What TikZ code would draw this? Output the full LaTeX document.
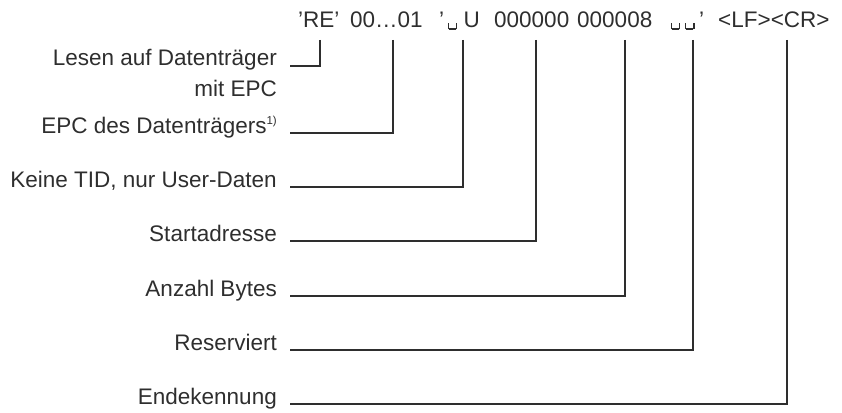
\documentclass[tikz,border=0pt]{standalone}
\usepackage{fontspec}
\setmainfont{Liberation Sans}
\definecolor{ink}{HTML}{2E2E2E}
% visible blank, drawn from rules
\newcommand{\blank}{\kern0.5pt\rule[-1.5pt]{1.2pt}{6.5pt}\rule[-1.5pt]{7pt}{1.2pt}\rule[-1.5pt]{1.2pt}{6.5pt}\kern0.5pt}
\newcommand{\fnmark}{\raisebox{8.5pt}{\fontsize{11.5}{11.5}\selectfont 1)}}
\begin{document}
\begin{tikzpicture}[x=1pt,y=-1pt,
  font=\fontsize{22.5}{27}\selectfont,
  every node/.style={text=ink, inner sep=0pt},
  lbl/.style={anchor=base east},
  tok/.style={anchor=base west},
  lead/.style={draw=ink, line width=1.2pt}]
\useasboundingbox (0,0) rectangle (842,412);

% telegram tokens
\node[tok] (t1) at (298,28) {'RE'};
\node[tok] (t2) at (350,28) {00…01};
\node[tok] (t3) at (439,28) {'\kern3pt\blank\kern6pt U};
\node[tok] (t4) at (494,28) {000000};
\node[tok] (t5) at (577,28) {000008};
\node[tok] (t6) at (670,28) {\blank\kern4pt\blank\kern4pt'};
\node[tok] (t7) at (718,28) {<LF><CR>};

% tops of the leaders
\coordinate (c1) at (320,40);
\coordinate (c2) at (393,40);
\coordinate (c3) at (463,40);
\coordinate (c4) at (536,40);
\coordinate (c5) at (625,40);
\coordinate (c6) at (693,40);
\coordinate (c7) at (787,40);

% explanations
\node[lbl] (l1)  at (277,66)  {Lesen auf Datenträger};
\node[lbl] (l1b) at (277,96)  {mit EPC};
\node[lbl] (l2)  at (277,133) {EPC des Datenträgers\fnmark};
\node[lbl] (l3)  at (277,187) {Keine TID, nur User-Daten};
\node[lbl] (l4)  at (277,241) {Startadresse};
\node[lbl] (l5)  at (277,296) {Anzahl Bytes};
\node[lbl] (l6)  at (277,350) {Reserviert};
\node[lbl] (l7)  at (277,404) {Endekennung};

% leaders
\foreach \i in {1,...,7}
  \draw[lead] (c\i) |- ([xshift=13pt]l\i.base east);
\end{tikzpicture}
\end{document}
